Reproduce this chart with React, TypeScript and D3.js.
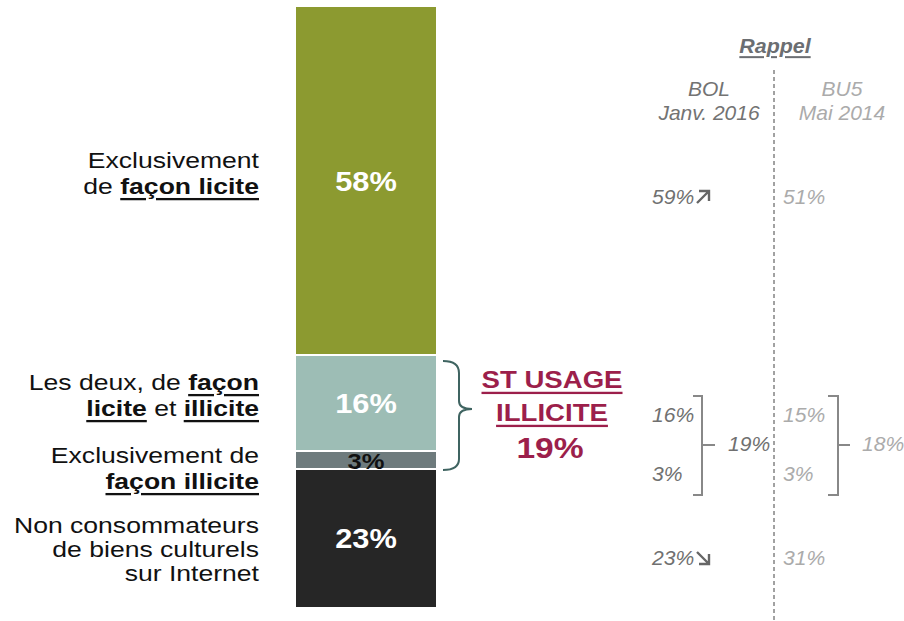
import React from "react";
import * as d3 from "d3";

const segments = ["licite", "deux", "illicite", "non"];
const values = [58, 16, 3, 23];
const segColors = ["#8C9A30", "#9DBDB5", "#6E7B7D", "#262626"];
const valueColors = ["#FFFFFF", "#FFFFFF", "#111111", "#FFFFFF"];
const valueSizes = [28, 28, 22, 28];

const bolValues = ["59%", "16%", "3%", "23%"];
const bolArrows = ["up", "", "", "down"];
const bu5Values = ["51%", "15%", "3%", "31%"];
const bolIllicitTotal = "19%";
const bu5IllicitTotal = "18%";
const stTotal = "19%";

type Part = { t: string; b?: boolean };
const labelLines: Part[][][] = [
  [[{ t: "Exclusivement" }], [{ t: "de " }, { t: "façon licite", b: true }]],
  [
    [{ t: "Les deux, de " }, { t: "façon", b: true }],
    [{ t: "licite", b: true }, { t: " et " }, { t: "illicite", b: true }],
  ],
  [[{ t: "Exclusivement de" }], [{ t: "façon illicite", b: true }]],
  [[{ t: "Non consommateurs" }], [{ t: "de biens culturels" }], [{ t: "sur Internet" }]],
];
const labelY = [[160, 186], [382, 408], [455, 481], [525, 549, 573]];
const rowY = [197, 415, 474, 558];

const W = 904;
const H = 621;
const font = "'Liberation Sans', Arial, sans-serif";
const SX = 1.165;

function T(props: {
  x: number;
  y: number;
  sx?: number;
  anchor?: "start" | "middle" | "end";
  size: number;
  fill: string;
  bold?: boolean;
  italic?: boolean;
  underline?: boolean;
  children: React.ReactNode;
}) {
  const sx = props.sx ?? SX;
  return (
    <text
      transform={`translate(${props.x},${props.y}) scale(${sx},1)`}
      textAnchor={props.anchor ?? "start"}
      dominantBaseline="central"
      fontSize={props.size}
      fill={props.fill}
      fontWeight={props.bold ? "bold" : "normal"}
      fontStyle={props.italic ? "italic" : "normal"}
      textDecoration={props.underline ? "underline" : "none"}
    >
      {props.children}
    </text>
  );
}

function Arrow({ x, y, dir }: { x: number; y: number; dir: string }) {
  const s = 6;
  const d =
    dir === "up"
      ? `M${x - s},${y + s} L${x + s},${y - s} M${x - s + 2},${y - s} L${x + s},${y - s} L${x + s},${y + s - 2}`
      : `M${x - s},${y - s} L${x + s},${y + s} M${x - s + 2},${y + s} L${x + s},${y + s} L${x + s},${y - s + 2}`;
  return <path d={d} fill="none" stroke="#666" strokeWidth={2.4} />;
}

export default function App() {
  const y = d3.scaleLinear().domain([0, 100]).range([7, 607]);
  const x0 = 296;
  const x1 = 436;
  const stack: { v: number; s: number; e: number }[] = [];
  let acc = 0;
  values.forEach((v) => {
    stack.push({ v, s: acc, e: acc + v });
    acc += v;
  });

  const ilTop = y(stack[1].s);
  const ilBot = y(stack[2].e);
  const ilMid = (ilTop + ilBot) / 2 - 3;

  return (
    <svg width={W} height={H} style={{ position: "absolute", left: 0, top: 0 }} fontFamily={font}>
      {stack.map((d, i) => (
        <g key={segments[i]}>
          <rect x={x0} y={y(d.s)} width={x1 - x0} height={y(d.e) - y(d.s)} fill={segColors[i]} />
          {i > 0 && <line x1={x0} x2={x1} y1={y(d.s)} y2={y(d.s)} stroke="#fff" strokeWidth={2} />}
        </g>
      ))}
      {stack.map((d, i) => (
        <T
          key={"v" + i}
          x={(x0 + x1) / 2}
          y={(y(d.s) + y(d.e)) / 2 + (i === 2 ? 1 : 0)}
          anchor="middle"
          size={valueSizes[i]}
          sx={i === 2 ? 1.16 : 1.1}
          fill={valueColors[i]}
          bold
        >
          {d.v}%
        </T>
      ))}

      {labelLines.map((lines, i) =>
        lines.map((parts, j) => (
          <T key={`${i}-${j}`} x={259} y={labelY[i][j]} anchor="end" size={22.8} fill="#111">
            {parts.map((p, k) => (
              <tspan key={k} fontWeight={p.b ? "bold" : "normal"} textDecoration={p.b ? "underline" : "none"}>
                {p.t}
              </tspan>
            ))}
          </T>
        ))
      )}

      {/* bracket near bar */}
      <path
        d={`M443,${ilTop + 6} Q459,${ilTop + 6} 459,${ilTop + 18} L459,${ilMid - 8} Q459,${ilMid} 472,${ilMid} Q459,${ilMid} 459,${ilMid + 8} L459,${ilBot - 10} Q459,${ilBot + 1} 443,${ilBot + 1}`}
        fill="none"
        stroke="#3F6461"
        strokeWidth={2}
      />
      <T x={552} y={380} anchor="middle" size={23} sx={1.2} bold fill="#9C1F4B" underline>
        ST USAGE
      </T>
      <T x={552} y={413} anchor="middle" size={23} sx={1.2} bold fill="#9C1F4B" underline>
        ILLICITE
      </T>
      <T x={550} y={448} anchor="middle" size={30} sx={1.12} bold fill="#9C1F4B">
        {stTotal}
      </T>

      {/* Rappel */}
      <T x={775} y={46} anchor="middle" size={20} sx={1.07} bold italic fill="#6B6E72" underline>
        Rappel
      </T>
      <T x={709} y={88} anchor="middle" size={21} sx={1} italic fill="#737373">
        BOL
      </T>
      <T x={709} y={112} anchor="middle" size={21} sx={1} italic fill="#737373">
        Janv. 2016
      </T>
      <T x={842} y={88} anchor="middle" size={21} sx={1} italic fill="#ABABAB">
        BU5
      </T>
      <T x={842} y={112} anchor="middle" size={21} sx={1} italic fill="#ABABAB">
        Mai 2014
      </T>
      <line x1={774} x2={774} y1={70} y2={621} stroke="#444" strokeWidth={1} strokeDasharray="4,3" />

      {bolValues.map((v, i) => (
        <g key={"b" + i}>
          <T x={652} y={rowY[i]} size={20.5} sx={1.03} italic fill="#707070">
            {v}
          </T>
          {bolArrows[i] && <Arrow x={703} y={rowY[i]} dir={bolArrows[i]} />}
        </g>
      ))}
      {bu5Values.map((v, i) => (
        <T key={"u" + i} x={783} y={rowY[i]} size={20.5} sx={1.03} italic fill="#ABABAB">
          {v}
        </T>
      ))}

      {/* right brackets */}
      <path d={`M693,396 L702,396 L702,495 L693,495 M702,445 L715,445`} fill="none" stroke="#888" strokeWidth={2} />
      <T x={728} y={444} size={20.5} sx={1.03} italic fill="#707070">
        {bolIllicitTotal}
      </T>
      <path d={`M828,396 L838,396 L838,495 L828,495 M838,445 L850,445`} fill="none" stroke="#888" strokeWidth={2} />
      <T x={862} y={444} size={20.5} sx={1.03} italic fill="#ABABAB">
        {bu5IllicitTotal}
      </T>
    </svg>
  );
}
